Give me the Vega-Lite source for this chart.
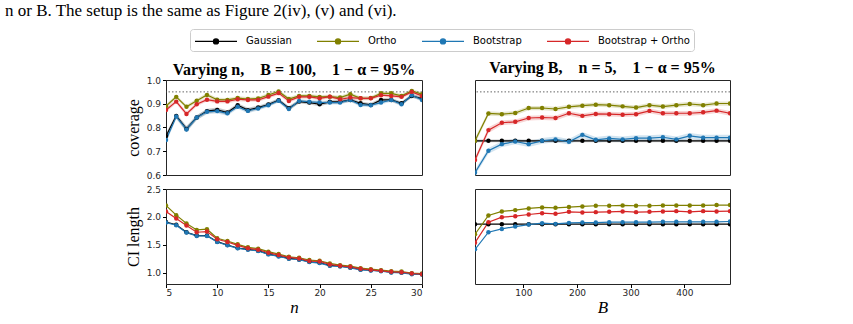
{
  "$schema": "https://vega.github.io/schema/vega-lite/v6.json",
  "padding": {"left": 5, "top": 1, "right": 5, "bottom": 5},
  "title": {
    "text": "n or B. The setup is the same as Figure 2(iv), (v) and (vi).",
    "anchor": "start",
    "frame": "group",
    "dx": -161,
    "font": "Liberation Serif",
    "fontSize": 17,
    "fontWeight": "normal",
    "color": "#000000",
    "offset": 9
  },
  "datasets": {
    "target": [{"level": 0.95}],
    "byN": [
      {"n": 5, "m": "Gaussian", "c": 0.764, "lo": 0.752, "hi": 0.776, "len": 1.910},
      {"n": 6, "m": "Gaussian", "c": 0.849, "lo": 0.839, "hi": 0.859, "len": 1.860},
      {"n": 7, "m": "Gaussian", "c": 0.794, "lo": 0.782, "hi": 0.806, "len": 1.727},
      {"n": 8, "m": "Gaussian", "c": 0.842, "lo": 0.832, "hi": 0.852, "len": 1.667},
      {"n": 9, "m": "Gaussian", "c": 0.869, "lo": 0.859, "hi": 0.879, "len": 1.667},
      {"n": 10, "m": "Gaussian", "c": 0.874, "lo": 0.864, "hi": 0.884, "len": 1.558},
      {"n": 11, "m": "Gaussian", "c": 0.863, "lo": 0.853, "hi": 0.873, "len": 1.498},
      {"n": 12, "m": "Gaussian", "c": 0.894, "lo": 0.886, "hi": 0.902, "len": 1.444},
      {"n": 13, "m": "Gaussian", "c": 0.873, "lo": 0.863, "hi": 0.883, "len": 1.420},
      {"n": 14, "m": "Gaussian", "c": 0.884, "lo": 0.876, "hi": 0.892, "len": 1.396},
      {"n": 15, "m": "Gaussian", "c": 0.897, "lo": 0.889, "hi": 0.905, "len": 1.336},
      {"n": 16, "m": "Gaussian", "c": 0.915, "lo": 0.907, "hi": 0.923, "len": 1.300},
      {"n": 17, "m": "Gaussian", "c": 0.881, "lo": 0.873, "hi": 0.889, "len": 1.258},
      {"n": 18, "m": "Gaussian", "c": 0.909, "lo": 0.901, "hi": 0.917, "len": 1.240},
      {"n": 19, "m": "Gaussian", "c": 0.905, "lo": 0.897, "hi": 0.913, "len": 1.198},
      {"n": 20, "m": "Gaussian", "c": 0.898, "lo": 0.890, "hi": 0.906, "len": 1.180},
      {"n": 21, "m": "Gaussian", "c": 0.908, "lo": 0.900, "hi": 0.916, "len": 1.132},
      {"n": 22, "m": "Gaussian", "c": 0.908, "lo": 0.900, "hi": 0.916, "len": 1.120},
      {"n": 23, "m": "Gaussian", "c": 0.916, "lo": 0.908, "hi": 0.924, "len": 1.096},
      {"n": 24, "m": "Gaussian", "c": 0.902, "lo": 0.894, "hi": 0.910, "len": 1.060},
      {"n": 25, "m": "Gaussian", "c": 0.895, "lo": 0.887, "hi": 0.903, "len": 1.048},
      {"n": 26, "m": "Gaussian", "c": 0.916, "lo": 0.908, "hi": 0.924, "len": 1.036},
      {"n": 27, "m": "Gaussian", "c": 0.916, "lo": 0.908, "hi": 0.924, "len": 1.012},
      {"n": 28, "m": "Gaussian", "c": 0.902, "lo": 0.894, "hi": 0.910, "len": 1.006},
      {"n": 29, "m": "Gaussian", "c": 0.933, "lo": 0.925, "hi": 0.941, "len": 0.982},
      {"n": 30, "m": "Gaussian", "c": 0.922, "lo": 0.914, "hi": 0.930, "len": 0.976},
      {"n": 5, "m": "Ortho", "c": 0.890, "lo": 0.882, "hi": 0.898, "len": 2.206},
      {"n": 6, "m": "Ortho", "c": 0.929, "lo": 0.921, "hi": 0.937, "len": 2.032},
      {"n": 7, "m": "Ortho", "c": 0.887, "lo": 0.879, "hi": 0.895, "len": 1.882},
      {"n": 8, "m": "Ortho", "c": 0.913, "lo": 0.905, "hi": 0.921, "len": 1.768},
      {"n": 9, "m": "Ortho", "c": 0.937, "lo": 0.929, "hi": 0.945, "len": 1.780},
      {"n": 10, "m": "Ortho", "c": 0.917, "lo": 0.909, "hi": 0.925, "len": 1.618},
      {"n": 11, "m": "Ortho", "c": 0.916, "lo": 0.908, "hi": 0.924, "len": 1.570},
      {"n": 12, "m": "Ortho", "c": 0.924, "lo": 0.916, "hi": 0.932, "len": 1.510},
      {"n": 13, "m": "Ortho", "c": 0.920, "lo": 0.912, "hi": 0.928, "len": 1.456},
      {"n": 14, "m": "Ortho", "c": 0.922, "lo": 0.914, "hi": 0.930, "len": 1.432},
      {"n": 15, "m": "Ortho", "c": 0.937, "lo": 0.929, "hi": 0.945, "len": 1.378},
      {"n": 16, "m": "Ortho", "c": 0.952, "lo": 0.944, "hi": 0.960, "len": 1.336},
      {"n": 17, "m": "Ortho", "c": 0.920, "lo": 0.912, "hi": 0.928, "len": 1.288},
      {"n": 18, "m": "Ortho", "c": 0.933, "lo": 0.925, "hi": 0.941, "len": 1.270},
      {"n": 19, "m": "Ortho", "c": 0.933, "lo": 0.925, "hi": 0.941, "len": 1.228},
      {"n": 20, "m": "Ortho", "c": 0.929, "lo": 0.921, "hi": 0.937, "len": 1.216},
      {"n": 21, "m": "Ortho", "c": 0.930, "lo": 0.922, "hi": 0.938, "len": 1.168},
      {"n": 22, "m": "Ortho", "c": 0.926, "lo": 0.918, "hi": 0.934, "len": 1.138},
      {"n": 23, "m": "Ortho", "c": 0.940, "lo": 0.932, "hi": 0.948, "len": 1.120},
      {"n": 24, "m": "Ortho", "c": 0.923, "lo": 0.915, "hi": 0.931, "len": 1.084},
      {"n": 25, "m": "Ortho", "c": 0.924, "lo": 0.916, "hi": 0.932, "len": 1.066},
      {"n": 26, "m": "Ortho", "c": 0.944, "lo": 0.936, "hi": 0.952, "len": 1.048},
      {"n": 27, "m": "Ortho", "c": 0.944, "lo": 0.936, "hi": 0.952, "len": 1.030},
      {"n": 28, "m": "Ortho", "c": 0.933, "lo": 0.925, "hi": 0.941, "len": 1.024},
      {"n": 29, "m": "Ortho", "c": 0.954, "lo": 0.946, "hi": 0.962, "len": 0.994},
      {"n": 30, "m": "Ortho", "c": 0.940, "lo": 0.932, "hi": 0.948, "len": 0.988},
      {"n": 5, "m": "Bootstrap", "c": 0.747, "lo": 0.735, "hi": 0.759, "len": 1.900},
      {"n": 6, "m": "Bootstrap", "c": 0.846, "lo": 0.836, "hi": 0.856, "len": 1.852},
      {"n": 7, "m": "Bootstrap", "c": 0.792, "lo": 0.780, "hi": 0.804, "len": 1.720},
      {"n": 8, "m": "Bootstrap", "c": 0.842, "lo": 0.832, "hi": 0.852, "len": 1.660},
      {"n": 9, "m": "Bootstrap", "c": 0.866, "lo": 0.856, "hi": 0.876, "len": 1.660},
      {"n": 10, "m": "Bootstrap", "c": 0.869, "lo": 0.859, "hi": 0.879, "len": 1.552},
      {"n": 11, "m": "Bootstrap", "c": 0.860, "lo": 0.850, "hi": 0.870, "len": 1.492},
      {"n": 12, "m": "Bootstrap", "c": 0.887, "lo": 0.879, "hi": 0.895, "len": 1.438},
      {"n": 13, "m": "Bootstrap", "c": 0.870, "lo": 0.860, "hi": 0.880, "len": 1.414},
      {"n": 14, "m": "Bootstrap", "c": 0.880, "lo": 0.872, "hi": 0.888, "len": 1.390},
      {"n": 15, "m": "Bootstrap", "c": 0.894, "lo": 0.886, "hi": 0.902, "len": 1.330},
      {"n": 16, "m": "Bootstrap", "c": 0.913, "lo": 0.905, "hi": 0.921, "len": 1.294},
      {"n": 17, "m": "Bootstrap", "c": 0.878, "lo": 0.868, "hi": 0.888, "len": 1.252},
      {"n": 18, "m": "Bootstrap", "c": 0.912, "lo": 0.904, "hi": 0.920, "len": 1.234},
      {"n": 19, "m": "Bootstrap", "c": 0.908, "lo": 0.900, "hi": 0.916, "len": 1.192},
      {"n": 20, "m": "Bootstrap", "c": 0.906, "lo": 0.898, "hi": 0.914, "len": 1.174},
      {"n": 21, "m": "Bootstrap", "c": 0.905, "lo": 0.897, "hi": 0.913, "len": 1.126},
      {"n": 22, "m": "Bootstrap", "c": 0.905, "lo": 0.897, "hi": 0.913, "len": 1.114},
      {"n": 23, "m": "Bootstrap", "c": 0.916, "lo": 0.908, "hi": 0.924, "len": 1.090},
      {"n": 24, "m": "Bootstrap", "c": 0.895, "lo": 0.887, "hi": 0.903, "len": 1.054},
      {"n": 25, "m": "Bootstrap", "c": 0.894, "lo": 0.886, "hi": 0.902, "len": 1.042},
      {"n": 26, "m": "Bootstrap", "c": 0.905, "lo": 0.897, "hi": 0.913, "len": 1.030},
      {"n": 27, "m": "Bootstrap", "c": 0.916, "lo": 0.908, "hi": 0.924, "len": 1.006},
      {"n": 28, "m": "Bootstrap", "c": 0.898, "lo": 0.890, "hi": 0.906, "len": 1.000},
      {"n": 29, "m": "Bootstrap", "c": 0.936, "lo": 0.928, "hi": 0.944, "len": 0.976},
      {"n": 30, "m": "Bootstrap", "c": 0.916, "lo": 0.908, "hi": 0.924, "len": 0.970},
      {"n": 5, "m": "Bootstrap + Ortho", "c": 0.874, "lo": 0.864, "hi": 0.884, "len": 2.098},
      {"n": 6, "m": "Bootstrap + Ortho", "c": 0.909, "lo": 0.901, "hi": 0.917, "len": 1.972},
      {"n": 7, "m": "Bootstrap + Ortho", "c": 0.857, "lo": 0.847, "hi": 0.867, "len": 1.846},
      {"n": 8, "m": "Bootstrap + Ortho", "c": 0.898, "lo": 0.890, "hi": 0.906, "len": 1.726},
      {"n": 9, "m": "Bootstrap + Ortho", "c": 0.917, "lo": 0.909, "hi": 0.925, "len": 1.738},
      {"n": 10, "m": "Bootstrap + Ortho", "c": 0.910, "lo": 0.902, "hi": 0.918, "len": 1.600},
      {"n": 11, "m": "Bootstrap + Ortho", "c": 0.910, "lo": 0.902, "hi": 0.918, "len": 1.552},
      {"n": 12, "m": "Bootstrap + Ortho", "c": 0.919, "lo": 0.911, "hi": 0.927, "len": 1.492},
      {"n": 13, "m": "Bootstrap + Ortho", "c": 0.916, "lo": 0.908, "hi": 0.924, "len": 1.438},
      {"n": 14, "m": "Bootstrap + Ortho", "c": 0.916, "lo": 0.908, "hi": 0.924, "len": 1.414},
      {"n": 15, "m": "Bootstrap + Ortho", "c": 0.930, "lo": 0.922, "hi": 0.938, "len": 1.360},
      {"n": 16, "m": "Bootstrap + Ortho", "c": 0.945, "lo": 0.937, "hi": 0.953, "len": 1.318},
      {"n": 17, "m": "Bootstrap + Ortho", "c": 0.912, "lo": 0.904, "hi": 0.920, "len": 1.276},
      {"n": 18, "m": "Bootstrap + Ortho", "c": 0.929, "lo": 0.921, "hi": 0.937, "len": 1.258},
      {"n": 19, "m": "Bootstrap + Ortho", "c": 0.929, "lo": 0.921, "hi": 0.937, "len": 1.210},
      {"n": 20, "m": "Bootstrap + Ortho", "c": 0.923, "lo": 0.915, "hi": 0.931, "len": 1.204},
      {"n": 21, "m": "Bootstrap + Ortho", "c": 0.930, "lo": 0.922, "hi": 0.938, "len": 1.150},
      {"n": 22, "m": "Bootstrap + Ortho", "c": 0.919, "lo": 0.911, "hi": 0.927, "len": 1.126},
      {"n": 23, "m": "Bootstrap + Ortho", "c": 0.926, "lo": 0.918, "hi": 0.934, "len": 1.108},
      {"n": 24, "m": "Bootstrap + Ortho", "c": 0.923, "lo": 0.915, "hi": 0.931, "len": 1.072},
      {"n": 25, "m": "Bootstrap + Ortho", "c": 0.923, "lo": 0.915, "hi": 0.931, "len": 1.054},
      {"n": 26, "m": "Bootstrap + Ortho", "c": 0.936, "lo": 0.928, "hi": 0.944, "len": 1.036},
      {"n": 27, "m": "Bootstrap + Ortho", "c": 0.933, "lo": 0.925, "hi": 0.941, "len": 1.018},
      {"n": 28, "m": "Bootstrap + Ortho", "c": 0.929, "lo": 0.921, "hi": 0.937, "len": 1.012},
      {"n": 29, "m": "Bootstrap + Ortho", "c": 0.950, "lo": 0.942, "hi": 0.958, "len": 0.988},
      {"n": 30, "m": "Bootstrap + Ortho", "c": 0.933, "lo": 0.925, "hi": 0.941, "len": 0.976}
    ],
    "byB": [
      {"B": 10, "m": "Gaussian", "c": 0.744, "lo": 0.738, "hi": 0.750, "len": 1.870},
      {"B": 35, "m": "Gaussian", "c": 0.744, "lo": 0.738, "hi": 0.750, "len": 1.870},
      {"B": 60, "m": "Gaussian", "c": 0.744, "lo": 0.738, "hi": 0.750, "len": 1.870},
      {"B": 85, "m": "Gaussian", "c": 0.744, "lo": 0.738, "hi": 0.750, "len": 1.870},
      {"B": 110, "m": "Gaussian", "c": 0.744, "lo": 0.738, "hi": 0.750, "len": 1.870},
      {"B": 135, "m": "Gaussian", "c": 0.744, "lo": 0.738, "hi": 0.750, "len": 1.870},
      {"B": 160, "m": "Gaussian", "c": 0.744, "lo": 0.738, "hi": 0.750, "len": 1.870},
      {"B": 185, "m": "Gaussian", "c": 0.744, "lo": 0.738, "hi": 0.750, "len": 1.870},
      {"B": 210, "m": "Gaussian", "c": 0.744, "lo": 0.738, "hi": 0.750, "len": 1.870},
      {"B": 235, "m": "Gaussian", "c": 0.744, "lo": 0.738, "hi": 0.750, "len": 1.870},
      {"B": 260, "m": "Gaussian", "c": 0.744, "lo": 0.738, "hi": 0.750, "len": 1.870},
      {"B": 285, "m": "Gaussian", "c": 0.744, "lo": 0.738, "hi": 0.750, "len": 1.870},
      {"B": 310, "m": "Gaussian", "c": 0.744, "lo": 0.738, "hi": 0.750, "len": 1.870},
      {"B": 335, "m": "Gaussian", "c": 0.744, "lo": 0.738, "hi": 0.750, "len": 1.870},
      {"B": 360, "m": "Gaussian", "c": 0.744, "lo": 0.738, "hi": 0.750, "len": 1.870},
      {"B": 385, "m": "Gaussian", "c": 0.744, "lo": 0.738, "hi": 0.750, "len": 1.870},
      {"B": 410, "m": "Gaussian", "c": 0.744, "lo": 0.738, "hi": 0.750, "len": 1.870},
      {"B": 435, "m": "Gaussian", "c": 0.744, "lo": 0.738, "hi": 0.750, "len": 1.870},
      {"B": 460, "m": "Gaussian", "c": 0.744, "lo": 0.738, "hi": 0.750, "len": 1.870},
      {"B": 485, "m": "Gaussian", "c": 0.744, "lo": 0.738, "hi": 0.750, "len": 1.870},
      {"B": 10, "m": "Ortho", "c": 0.744, "lo": 0.732, "hi": 0.756, "len": 1.690},
      {"B": 35, "m": "Ortho", "c": 0.859, "lo": 0.850, "hi": 0.868, "len": 2.026},
      {"B": 60, "m": "Ortho", "c": 0.856, "lo": 0.847, "hi": 0.865, "len": 2.098},
      {"B": 85, "m": "Ortho", "c": 0.861, "lo": 0.852, "hi": 0.870, "len": 2.122},
      {"B": 110, "m": "Ortho", "c": 0.882, "lo": 0.873, "hi": 0.891, "len": 2.152},
      {"B": 135, "m": "Ortho", "c": 0.882, "lo": 0.873, "hi": 0.891, "len": 2.170},
      {"B": 160, "m": "Ortho", "c": 0.878, "lo": 0.869, "hi": 0.887, "len": 2.164},
      {"B": 185, "m": "Ortho", "c": 0.887, "lo": 0.878, "hi": 0.896, "len": 2.176},
      {"B": 210, "m": "Ortho", "c": 0.892, "lo": 0.883, "hi": 0.901, "len": 2.188},
      {"B": 235, "m": "Ortho", "c": 0.896, "lo": 0.887, "hi": 0.905, "len": 2.200},
      {"B": 260, "m": "Ortho", "c": 0.894, "lo": 0.885, "hi": 0.903, "len": 2.200},
      {"B": 285, "m": "Ortho", "c": 0.889, "lo": 0.880, "hi": 0.898, "len": 2.206},
      {"B": 310, "m": "Ortho", "c": 0.884, "lo": 0.875, "hi": 0.893, "len": 2.200},
      {"B": 335, "m": "Ortho", "c": 0.894, "lo": 0.885, "hi": 0.903, "len": 2.200},
      {"B": 360, "m": "Ortho", "c": 0.888, "lo": 0.879, "hi": 0.897, "len": 2.206},
      {"B": 385, "m": "Ortho", "c": 0.894, "lo": 0.885, "hi": 0.903, "len": 2.206},
      {"B": 410, "m": "Ortho", "c": 0.899, "lo": 0.890, "hi": 0.908, "len": 2.206},
      {"B": 435, "m": "Ortho", "c": 0.894, "lo": 0.885, "hi": 0.903, "len": 2.206},
      {"B": 460, "m": "Ortho", "c": 0.901, "lo": 0.892, "hi": 0.910, "len": 2.212},
      {"B": 485, "m": "Ortho", "c": 0.901, "lo": 0.892, "hi": 0.910, "len": 2.212},
      {"B": 10, "m": "Bootstrap", "c": 0.610, "lo": 0.598, "hi": 0.622, "len": 1.420},
      {"B": 35, "m": "Bootstrap", "c": 0.702, "lo": 0.690, "hi": 0.714, "len": 1.726},
      {"B": 60, "m": "Bootstrap", "c": 0.730, "lo": 0.718, "hi": 0.742, "len": 1.786},
      {"B": 85, "m": "Bootstrap", "c": 0.741, "lo": 0.729, "hi": 0.753, "len": 1.828},
      {"B": 110, "m": "Bootstrap", "c": 0.730, "lo": 0.718, "hi": 0.742, "len": 1.864},
      {"B": 135, "m": "Bootstrap", "c": 0.744, "lo": 0.732, "hi": 0.756, "len": 1.888},
      {"B": 160, "m": "Bootstrap", "c": 0.750, "lo": 0.738, "hi": 0.762, "len": 1.876},
      {"B": 185, "m": "Bootstrap", "c": 0.740, "lo": 0.728, "hi": 0.752, "len": 1.894},
      {"B": 210, "m": "Bootstrap", "c": 0.769, "lo": 0.757, "hi": 0.781, "len": 1.900},
      {"B": 235, "m": "Bootstrap", "c": 0.748, "lo": 0.736, "hi": 0.760, "len": 1.900},
      {"B": 260, "m": "Bootstrap", "c": 0.754, "lo": 0.742, "hi": 0.766, "len": 1.906},
      {"B": 285, "m": "Bootstrap", "c": 0.750, "lo": 0.738, "hi": 0.762, "len": 1.906},
      {"B": 310, "m": "Bootstrap", "c": 0.755, "lo": 0.743, "hi": 0.767, "len": 1.906},
      {"B": 335, "m": "Bootstrap", "c": 0.755, "lo": 0.743, "hi": 0.767, "len": 1.906},
      {"B": 360, "m": "Bootstrap", "c": 0.759, "lo": 0.747, "hi": 0.771, "len": 1.912},
      {"B": 385, "m": "Bootstrap", "c": 0.750, "lo": 0.738, "hi": 0.762, "len": 1.912},
      {"B": 410, "m": "Bootstrap", "c": 0.765, "lo": 0.753, "hi": 0.777, "len": 1.912},
      {"B": 435, "m": "Bootstrap", "c": 0.757, "lo": 0.745, "hi": 0.769, "len": 1.912},
      {"B": 460, "m": "Bootstrap", "c": 0.757, "lo": 0.745, "hi": 0.769, "len": 1.912},
      {"B": 485, "m": "Bootstrap", "c": 0.757, "lo": 0.745, "hi": 0.769, "len": 1.918},
      {"B": 10, "m": "Bootstrap + Ortho", "c": 0.663, "lo": 0.651, "hi": 0.675, "len": 1.540},
      {"B": 35, "m": "Bootstrap + Ortho", "c": 0.789, "lo": 0.777, "hi": 0.801, "len": 1.906},
      {"B": 60, "m": "Bootstrap + Ortho", "c": 0.820, "lo": 0.810, "hi": 0.830, "len": 1.996},
      {"B": 85, "m": "Bootstrap + Ortho", "c": 0.824, "lo": 0.814, "hi": 0.834, "len": 2.014},
      {"B": 110, "m": "Bootstrap + Ortho", "c": 0.840, "lo": 0.830, "hi": 0.850, "len": 2.044},
      {"B": 135, "m": "Bootstrap + Ortho", "c": 0.842, "lo": 0.832, "hi": 0.852, "len": 2.068},
      {"B": 160, "m": "Bootstrap + Ortho", "c": 0.840, "lo": 0.830, "hi": 0.850, "len": 2.056},
      {"B": 185, "m": "Bootstrap + Ortho", "c": 0.860, "lo": 0.850, "hi": 0.870, "len": 2.092},
      {"B": 210, "m": "Bootstrap + Ortho", "c": 0.849, "lo": 0.839, "hi": 0.859, "len": 2.080},
      {"B": 235, "m": "Bootstrap + Ortho", "c": 0.857, "lo": 0.847, "hi": 0.867, "len": 2.086},
      {"B": 260, "m": "Bootstrap + Ortho", "c": 0.856, "lo": 0.846, "hi": 0.866, "len": 2.092},
      {"B": 285, "m": "Bootstrap + Ortho", "c": 0.854, "lo": 0.844, "hi": 0.864, "len": 2.098},
      {"B": 310, "m": "Bootstrap + Ortho", "c": 0.856, "lo": 0.846, "hi": 0.866, "len": 2.086},
      {"B": 335, "m": "Bootstrap + Ortho", "c": 0.870, "lo": 0.860, "hi": 0.880, "len": 2.092},
      {"B": 360, "m": "Bootstrap + Ortho", "c": 0.860, "lo": 0.850, "hi": 0.870, "len": 2.098},
      {"B": 385, "m": "Bootstrap + Ortho", "c": 0.860, "lo": 0.850, "hi": 0.870, "len": 2.104},
      {"B": 410, "m": "Bootstrap + Ortho", "c": 0.860, "lo": 0.850, "hi": 0.870, "len": 2.092},
      {"B": 435, "m": "Bootstrap + Ortho", "c": 0.864, "lo": 0.854, "hi": 0.874, "len": 2.104},
      {"B": 460, "m": "Bootstrap + Ortho", "c": 0.871, "lo": 0.861, "hi": 0.881, "len": 2.098},
      {"B": 485, "m": "Bootstrap + Ortho", "c": 0.860, "lo": 0.850, "hi": 0.870, "len": 2.104}
    ]
  },
  "spacing": 3,
  "vconcat": [
    {
      "spacing": 51,
      "hconcat": [
        {
          "width": 256,
          "height": 95,
          "title": {"text": "Varying n,\u00a0\u00a0\u00a0\u00a0B = 100,\u00a0\u00a0\u00a0\u00a01 − α = 95%", "offset": -2},
          "layer": [
            {
              "data": {"name": "byN"},
              "mark": {"type": "area", "opacity": 0.2, "clip": true},
              "encoding": {
                "x": {"field": "n", "type": "quantitative", "scale": {"domain": [5, 30], "nice": false}, "axis": null},
                "y": {"field": "lo", "type": "quantitative", "stack": null, "scale": {"domain": [0.6, 1.0], "nice": false}, "axis": {"title": "coverage", "values": [0.6, 0.7, 0.8, 0.9, 1.0], "format": ".1f", "labelOverlap": false}},
                "y2": {"field": "hi"},
                "color": {"field": "m", "type": "nominal", "scale": {"domain": ["Gaussian", "Ortho", "Bootstrap", "Bootstrap + Ortho"], "range": ["#000000", "#808000", "#1f77b4", "#d62728"]}, "legend": {"title": null, "orient": "none", "legendX": 24, "legendY": -51, "direction": "horizontal", "symbolOpacity": 1}}
              }
            },
            {
              "data": {"name": "target"},
              "mark": {"type": "rule", "color": "#666666", "strokeDash": [1.5, 2], "strokeWidth": 1},
              "encoding": {"y": {"field": "level", "type": "quantitative", "axis": {"title": "coverage", "values": [0.6, 0.7, 0.8, 0.9, 1.0], "format": ".1f", "labelOverlap": false}}}
            },
            {
              "data": {"name": "byN"},
              "mark": {"type": "line", "strokeWidth": 1.2, "clip": true},
              "encoding": {
                "x": {"field": "n", "type": "quantitative", "axis": null},
                "y": {"field": "c", "type": "quantitative", "axis": {"title": "coverage", "values": [0.6, 0.7, 0.8, 0.9, 1.0], "format": ".1f", "labelOverlap": false}},
                "color": {"field": "m", "type": "nominal"}
              }
            },
            {
              "data": {"name": "byN"},
              "mark": {"type": "point", "filled": true, "size": 20, "opacity": 1, "clip": true},
              "encoding": {
                "x": {"field": "n", "type": "quantitative", "axis": null},
                "y": {"field": "c", "type": "quantitative", "axis": {"title": "coverage", "values": [0.6, 0.7, 0.8, 0.9, 1.0], "format": ".1f", "labelOverlap": false}},
                "color": {"field": "m", "type": "nominal"}
              }
            }
          ]
        },
        {
          "width": 255,
          "height": 95,
          "title": {"text": "Varying B,\u00a0\u00a0\u00a0\u00a0n = 5,\u00a0\u00a0\u00a0\u00a01 − α = 95%"},
          "layer": [
            {
              "data": {"name": "byB"},
              "mark": {"type": "area", "opacity": 0.2, "clip": true},
              "encoding": {
                "x": {"field": "B", "type": "quantitative", "scale": {"domain": [10, 485], "nice": false}, "axis": null},
                "y": {"field": "lo", "type": "quantitative", "stack": null, "scale": {"domain": [0.6, 1.0], "nice": false}, "axis": null},
                "y2": {"field": "hi"},
                "color": {"field": "m", "type": "nominal"}
              }
            },
            {
              "data": {"name": "target"},
              "mark": {"type": "rule", "color": "#666666", "strokeDash": [1.5, 2], "strokeWidth": 1},
              "encoding": {"y": {"field": "level", "type": "quantitative", "axis": null}}
            },
            {
              "data": {"name": "byB"},
              "mark": {"type": "line", "strokeWidth": 1.2, "clip": true},
              "encoding": {
                "x": {"field": "B", "type": "quantitative", "axis": null},
                "y": {"field": "c", "type": "quantitative", "axis": null},
                "color": {"field": "m", "type": "nominal"}
              }
            },
            {
              "data": {"name": "byB"},
              "mark": {"type": "point", "filled": true, "size": 20, "opacity": 1, "clip": true},
              "encoding": {
                "x": {"field": "B", "type": "quantitative", "axis": null},
                "y": {"field": "c", "type": "quantitative", "axis": null},
                "color": {"field": "m", "type": "nominal"}
              }
            }
          ]
        }
      ]
    },
    {
      "spacing": 51,
      "hconcat": [
        {
          "width": 256,
          "height": 95,
          "data": {"name": "byN"},
          "encoding": {
            "x": {"field": "n", "type": "quantitative", "scale": {"domain": [5, 30], "nice": false}, "axis": {"title": "n", "values": [5, 10, 15, 20, 25, 30], "titleFontStyle": "italic", "titleFontSize": 17, "titlePadding": 2, "labelPadding": 1}},
            "y": {"field": "len", "type": "quantitative", "scale": {"domain": [0.8, 2.5], "nice": false}, "axis": {"title": "CI length", "values": [1.0, 1.5, 2.0, 2.5], "format": ".1f", "labelOverlap": false}},
            "color": {"field": "m", "type": "nominal"}
          },
          "layer": [
            {"mark": {"type": "line", "strokeWidth": 1.2, "clip": true}},
            {"mark": {"type": "point", "filled": true, "size": 20, "opacity": 1, "clip": true}}
          ]
        },
        {
          "width": 255,
          "height": 95,
          "data": {"name": "byB"},
          "encoding": {
            "x": {"field": "B", "type": "quantitative", "scale": {"domain": [10, 485], "nice": false}, "axis": {"title": "B", "values": [100, 200, 300, 400], "titleFontStyle": "italic", "titleFontSize": 17, "titlePadding": 2, "labelPadding": 1}},
            "y": {"field": "len", "type": "quantitative", "scale": {"domain": [0.8, 2.5], "nice": false}, "axis": null},
            "color": {"field": "m", "type": "nominal"}
          },
          "layer": [
            {"mark": {"type": "line", "strokeWidth": 1.2, "clip": true}},
            {"mark": {"type": "point", "filled": true, "size": 20, "opacity": 1, "clip": true}}
          ]
        }
      ]
    }
  ],
  "config": {
    "view": {"stroke": "#262626", "strokeWidth": 1},
    "axis": {
      "domain": false,
      "grid": false,
      "tickColor": "#000000",
      "tickSize": 3.5,
      "labelFont": "DejaVu Sans",
      "labelFontSize": 9,
      "labelColor": "#262626",
      "labelPadding": 2,
      "titleFont": "Liberation Serif",
      "titleFontSize": 16,
      "titleFontWeight": "normal",
      "titleColor": "#000000",
      "titlePadding": 5
    },
    "title": {"font": "Liberation Serif", "fontSize": 16, "fontWeight": "bold", "color": "#000000", "offset": 4},
    "legend": {
      "labelFont": "DejaVu Sans",
      "labelFontSize": 10,
      "labelColor": "#000000",
      "symbolType": "M-1,0H5M1.64,0A0.36,0.36,0,1,1,2.36,0A0.36,0.36,0,1,1,1.64,0Z",
      "symbolSize": 196,
      "symbolStrokeWidth": 1.3,
      "symbolOpacity": 1,
      "labelOffset": 36,
      "columnPadding": 22,
      "strokeColor": "#cccccc",
      "fillColor": "#ffffff",
      "cornerRadius": 3,
      "padding": 4
    }
  }
}
